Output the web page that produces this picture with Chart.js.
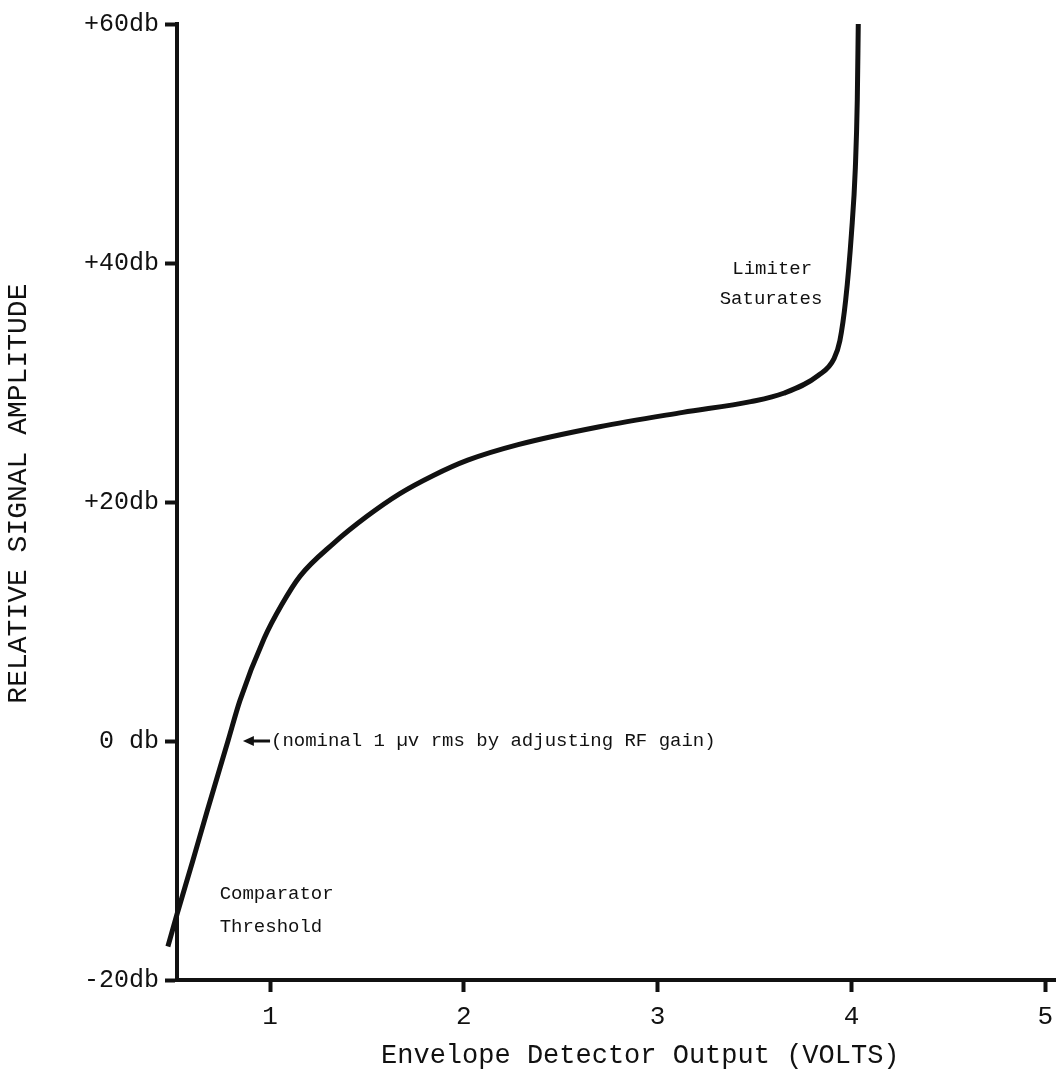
<!DOCTYPE html>
<html>
<head>
<meta charset="utf-8">
<script src="https://cdn.jsdelivr.net/npm/chart.js@4"></script>
<style>
  html, body { margin: 0; padding: 0; background: #fff; }
  #wrap { width: 1058px; height: 1075px; position: relative; }
</style>
</head>
<body>
<div id="wrap"><canvas id="curveChart"></canvas></div>
<script>
// Envelope detector output (volts) vs relative signal amplitude (db)
const volts = [0.473, 0.52, 0.6, 0.675, 0.783, 0.845, 0.97, 1.06, 1.155, 1.325, 1.5, 1.67, 1.84, 2.02, 2.28, 2.7, 3.13, 3.48, 3.65, 3.83, 3.91, 3.94, 3.97, 4.0, 4.02, 4.03, 4.035];
const amplitudeDb = [-17.2, -14.5, -10.1, -5.9, 0, 3.4, 8.6, 11.4, 13.8, 16.5, 18.8, 20.7, 22.2, 23.5, 24.8, 26.3, 27.5, 28.4, 29.1, 30.6, 32.0, 33.5, 36.9, 42.5, 48.0, 53.7, 60];

// tick labels
const xTicks = [1, 2, 3, 4, 5];
const yTicks = [-20, 0, 20, 40, 60];
const yTickLabels = ['-20db', '0 db', '+20db', '+40db', '+60db'];

// notes written on the plot (data coordinates)
const notes = [
    { text: 'Limiter', x: 3.385, y: 39.5 },
    { text: 'Saturates', x: 3.32, y: 37.0 },
    { text: 'Comparator', x: 0.74, y: -12.8 },
    { text: 'Threshold', x: 0.74, y: -15.6 },
    { text: '(nominal 1 \u00b5v rms by adjusting RF gain)', x: 1.005, y: 0 }
];
const arrow = { fromX: 1.0, toX: 0.86, y: 0 };

const fontFam = '"Liberation Mono", "DejaVu Sans Mono", monospace';
const ink = '#111';

// draws the typed notes and the little arrow
const notesPlugin = {
    id: 'notes',
    afterDatasetsDraw(chart) {
        const c = chart.ctx, xs = chart.scales.x, ys = chart.scales.y;
        c.save();
        c.fillStyle = ink;
        c.font = '19px ' + fontFam;
        c.textAlign = 'left';
        c.textBaseline = 'middle';
        notes.forEach(n => c.fillText(n.text, xs.getPixelForValue(n.x), ys.getPixelForValue(n.y)));

        const x1 = xs.getPixelForValue(arrow.fromX), x2 = xs.getPixelForValue(arrow.toX);
        const ay = ys.getPixelForValue(arrow.y);
        c.strokeStyle = ink;
        c.lineWidth = 3;
        c.beginPath();
        c.moveTo(x1, ay);
        c.lineTo(x2 + 6, ay);
        c.stroke();
        c.beginPath();
        c.moveTo(x2, ay);
        c.lineTo(x2 + 11, ay - 5);
        c.lineTo(x2 + 11, ay + 5);
        c.closePath();
        c.fill();
        c.restore();
    }
};

const ctx = document.getElementById('curveChart').getContext('2d');
const curveChart = new Chart(ctx, {
    type: 'line',
    data: {
        datasets: [{
            data: volts.map((v, i) => ({ x: v, y: amplitudeDb[i] })),
            borderColor: ink,
            borderWidth: 5,
            pointRadius: 0,
            cubicInterpolationMode: 'monotone',
            fill: false,
            clip: false
        }]
    },
    options: {
        responsive: true,
        maintainAspectRatio: false,
        animation: false,
        layout: { padding: { top: 24, right: 3, left: 0, bottom: 0 } },
        plugins: {
            legend: { display: false },
            tooltip: { enabled: false }
        },
        scales: {
            x: {
                type: 'linear',
                min: 0.52,
                max: 5.05,
                afterBuildTicks: s => { s.ticks = xTicks.map(v => ({ value: v })); },
                afterFit: s => { s.height = 95; s.paddingRight = 0; s.paddingLeft = 0; },
                border: { display: true, color: ink, width: 4 },
                grid: { drawOnChartArea: false, drawTicks: true, tickLength: 12, tickWidth: 4, color: ink },
                ticks: { color: ink, font: { family: fontFam, size: 26 }, padding: 10, maxRotation: 0 },
                title: {
                    display: true,
                    text: '   Envelope Detector Output (VOLTS)',
                    color: ink,
                    font: { family: fontFam, size: 27 },
                    padding: { top: 0, bottom: 3 }
                }
            },
            y: {
                type: 'linear',
                min: -20,
                max: 60,
                afterBuildTicks: s => { s.ticks = yTicks.map(v => ({ value: v })); },
                afterFit: s => { s.width = 177; },
                border: { display: true, color: ink, width: 4 },
                grid: { drawOnChartArea: false, drawTicks: true, tickLength: 12, tickWidth: 4, color: ink },
                ticks: {
                    color: ink,
                    font: { family: fontFam, size: 25 },
                    padding: 6,
                    callback: v => yTickLabels[yTicks.indexOf(v)]
                },
                title: {
                    display: true,
                    text: ' RELATIVE SIGNAL AMPLITUDE',
                    color: ink,
                    font: { family: fontFam, size: 28 },
                    padding: { top: 2, bottom: 0 }
                }
            }
        }
    },
    plugins: [notesPlugin]
});
</script>
</body>
</html>
